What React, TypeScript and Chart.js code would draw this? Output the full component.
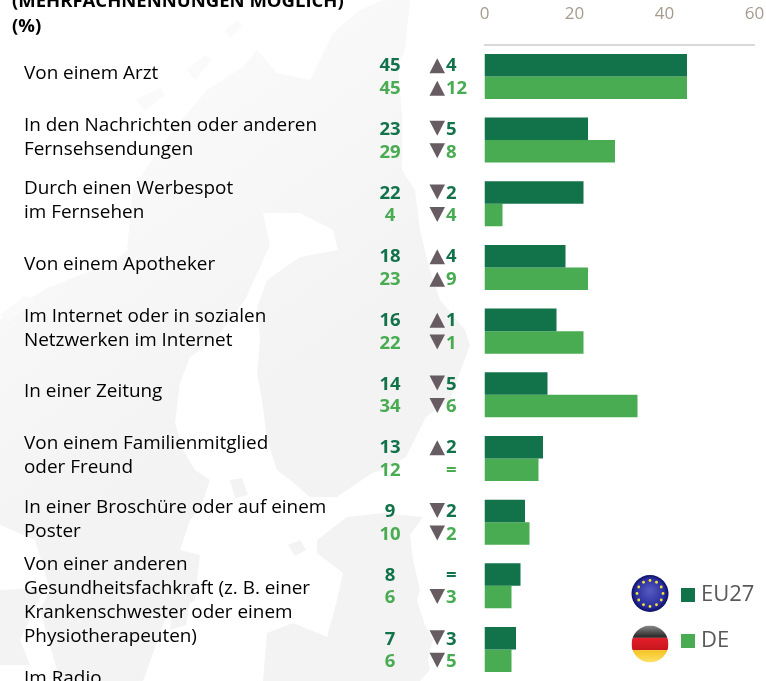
import { useEffect, useRef } from "react";
import { Chart, registerables } from "chart.js";

Chart.register(...registerables);

const title = ["(MEHRFACHNENNUNGEN MÖGLICH)", "(%)"];

const categoryLines: string[][] = [
  ["Von einem Arzt"],
  ["In den Nachrichten oder anderen", "Fernsehsendungen"],
  ["Durch einen Werbespot", "im Fernsehen"],
  ["Von einem Apotheker"],
  ["Im Internet oder in sozialen", "Netzwerken im Internet"],
  ["In einer Zeitung"],
  ["Von einem Familienmitglied", "oder Freund"],
  ["In einer Broschüre oder auf einem", "Poster"],
  ["Von einer anderen", "Gesundheitsfachkraft (z. B. einer", "Krankenschwester oder einem", "Physiotherapeuten)"],
  [""],
  ["Im Radio"],
];

const categories = categoryLines.map((l) => l.join(" "));
const euValues = [45, 23, 22, 18, 16, 14, 13, 9, 8, 7, null];
const deValues = [45, 29, 4, 23, 22, 34, 12, 10, 6, 6, null];
const euChange = [4, -5, -2, 4, 1, -5, 2, -2, 0, -3, null];
const deChange = [12, -8, -4, 9, -1, -6, 0, -2, -3, -5, null];
const xTicks = [0, 20, 40, 60];
const seriesNames = ["EU27", "DE"];
const seriesColors = ["#12734a", "#49ab52"];

const FONT = '"Open Sans", sans-serif';
const ROW_SHIFT: Record<number, number> = { 8: 0.23, 10: -0.55 };

const SCAND =
  "M0,320 L43,290 L117,260 L127,250 L133,187 L173,130 L207,90 L243,67 L257,50 L277,73 L310,80 L333,33 L360,10 L383,0 L410,0 L405,50 L398,65 L402,115 L402,170 L415,190 L420,230 L430,270 L440,300 L465,330 L470,345 L450,400 L426,417 L406,457 L383,470 L372,473 L337,497 L310,497 L290,480 L277,470 L267,440 L263,407 L257,373 L260,340 L257,307 L267,280 L300,257 L338,250 L333,230 L300,213 L263,213 L270,245 L245,300 L215,340 L190,357 L180,383 L175,423 L183,450 L195,470 L210,480 L200,510 L190,520 L180,550 L200,555 L195,600 L165,620 L143,681 L60,681 L40,610 L50,590 L35,540 L0,525 Z";
const BALTIC =
  "M423,517 L383,513 L347,517 L317,540 L317,553 L343,573 L337,600 L327,637 L293,623 L267,633 L263,681 L420,681 L430,670 L428,660 L430,650 L433,640 L425,625 L420,610 L417,600 L420,590 L413,560 L410,535 Z";
const ISLANDS = [
  "M0,590 L45,588 L20,640 L30,665 L0,665 Z",
  "M230,480 L242,478 L248,495 L235,498 Z",
  "M288,545 L300,540 L306,550 L295,556 Z",
  "M172,605 L190,600 L186,625 L170,630 Z",
];
const FAINT_ISLANDS = [
  "M187,70 L205,55 L212,60 L195,80 Z",
  "M135,100 L160,88 L165,95 L145,110 Z",
  "M225,30 L238,20 L242,27 L230,38 Z",
  "M0,315 L25,295 L35,300 L10,322 Z",
];

const drawMap = {
  id: "mapBackdrop",
  beforeDraw(chart: any) {
    const { ctx } = chart;
    ctx.save();
    const g = ctx.createLinearGradient(80, 20, 320, 360);
    g.addColorStop(0, "#fcfcfc");
    g.addColorStop(1, "#f3f3f3");
    ctx.fillStyle = g;
    ctx.fill(new Path2D(SCAND));
    ctx.fillStyle = "#f3f3f3";
    ctx.fill(new Path2D(BALTIC));
    ISLANDS.forEach((p) => ctx.fill(new Path2D(p)));
    ctx.fillStyle = "#fafafa";
    FAINT_ISLANDS.forEach((p) => ctx.fill(new Path2D(p)));
    ctx.restore();
  },
};

function triangle(ctx: any, x: number, y: number, up: boolean) {
  ctx.beginPath();
  if (up) {
    ctx.moveTo(x, y + 8);
    ctx.lineTo(x + 15.5, y + 8);
    ctx.lineTo(x + 7.75, y - 7);
  } else {
    ctx.moveTo(x, y - 8);
    ctx.lineTo(x + 15.5, y - 8);
    ctx.lineTo(x + 7.75, y + 7);
  }
  ctx.closePath();
  ctx.fillStyle = "#665c61";
  ctx.fill();
}

function drawEuFlag(ctx: any, cx: number, cy: number, r: number) {
  const g = ctx.createRadialGradient(cx, cy - 3, 2, cx, cy, r);
  g.addColorStop(0, "#5156bd");
  g.addColorStop(0.75, "#2a2e9e");
  g.addColorStop(1, "#0c0f63");
  ctx.fillStyle = g;
  ctx.beginPath();
  ctx.arc(cx, cy, r, 0, Math.PI * 2);
  ctx.fill();
  ctx.fillStyle = "#f2e23a";
  for (let i = 0; i < 12; i++) {
    const a = (i * Math.PI) / 6;
    ctx.beginPath();
    ctx.arc(cx + 13 * Math.sin(a), cy - 13 * Math.cos(a), 1.4, 0, Math.PI * 2);
    ctx.fill();
  }
}

function drawDeFlag(ctx: any, cx: number, cy: number, r: number) {
  ctx.save();
  ctx.beginPath();
  ctx.arc(cx, cy, r, 0, Math.PI * 2);
  ctx.clip();
  const top = ctx.createLinearGradient(0, cy - r, 0, cy - r / 3);
  top.addColorStop(0, "#8a8a8a");
  top.addColorStop(0.5, "#555");
  top.addColorStop(1, "#222");
  ctx.fillStyle = top;
  ctx.fillRect(cx - r, cy - r, 2 * r, (2 * r) / 3);
  const mid = ctx.createLinearGradient(0, cy - r / 3, 0, cy + r / 3);
  mid.addColorStop(0, "#e2202a");
  mid.addColorStop(1, "#c8141c");
  ctx.fillStyle = mid;
  ctx.fillRect(cx - r, cy - r / 3, 2 * r, (2 * r) / 3);
  const bot = ctx.createLinearGradient(0, cy + r / 3, 0, cy + r);
  bot.addColorStop(0, "#f4c21f");
  bot.addColorStop(1, "#fde26a");
  ctx.fillStyle = bot;
  ctx.fillRect(cx - r, cy + r / 3, 2 * r, (2 * r) / 3);
  ctx.restore();
}

const annotate = {
  id: "annotate",
  afterDatasetsDraw(chart: any) {
    const { ctx } = chart;
    ctx.save();
    ctx.fillStyle = "#000";
    ctx.font = `bold 18.5px ${FONT}`;
    ctx.textAlign = "left";
    ctx.textBaseline = "alphabetic";
    ctx.fillText(title[0], 12, 7);
    ctx.fillText(title[1], 12, 32);

    const sets = [
      { v: euValues, c: euChange },
      { v: deValues, c: deChange },
    ];
    sets.forEach((s, d) => {
      const meta = chart.getDatasetMeta(d);
      s.v.forEach((val, i) => {
        if (val === null) return;
        const y = meta.data[i].y;
        const ty = y + 1;
        ctx.fillStyle = seriesColors[d];
        ctx.font = `bold 18.5px ${FONT}`;
        ctx.textBaseline = "middle";
        ctx.textAlign = "center";
        ctx.fillText(String(val), 390, ty);
        const ch = s.c[i] as number;
        ctx.textAlign = "left";
        if (ch === 0) {
          ctx.fillText("=", 446, ty);
        } else {
          ctx.fillText(String(Math.abs(ch)), 446, ty);
          triangle(ctx, 429.5, y, ch > 0);
        }
      });
    });

    const legendY = [595, 641];
    seriesNames.forEach((n, i) => {
      ctx.fillStyle = seriesColors[i];
      ctx.fillRect(681, legendY[i] - 7, 14, 14);
      ctx.fillStyle = "#595959";
      ctx.font = `22px ${FONT}`;
      ctx.textAlign = "left";
      ctx.textBaseline = "middle";
      ctx.fillText(n, 701, legendY[i]);
    });
    drawEuFlag(ctx, 650, 593.5, 18.5);
    drawDeFlag(ctx, 650, 644, 18.5);
    ctx.restore();
  },
};

const noMargins = (s: any) => {
  s.paddingLeft = s.paddingRight = s.paddingTop = s.paddingBottom = 0;
};
const resetScale = (s: any) => {
  s._margins = { left: 0, right: 0, top: 0, bottom: 0 };
  s.configure();
};

export default function App() {
  const ref = useRef<HTMLCanvasElement | null>(null);
  useEffect(() => {
    document.body.style.margin = "0";
    const chart = new Chart(ref.current as HTMLCanvasElement, {
      type: "bar",
      data: {
        labels: categories,
        datasets: [
          { label: seriesNames[0], data: euValues, backgroundColor: seriesColors[0], yAxisID: "y", xAxisID: "x" },
          { label: seriesNames[1], data: deValues, backgroundColor: seriesColors[1], yAxisID: "y", xAxisID: "x" },
        ],
      },
      options: {
        indexAxis: "y",
        animation: false,
        responsive: false,
        layout: { autoPadding: false, padding: { left: 24, right: 11.5, top: 0, bottom: 0 } },
        plugins: { legend: { display: false }, title: { display: false }, tooltip: { enabled: false } },
        datasets: { bar: { barPercentage: 1, categoryPercentage: 0.707 } },
        scales: {
          x: {
            type: "linear",
            position: "top",
            min: 0,
            max: 60,
            grid: { display: false },
            border: { display: true, color: "#d9d9d9", width: 2 },
            ticks: {
              color: "#a69b8f",
              font: { family: FONT, size: 17 },
              padding: 12,
              maxRotation: 0,
              callback: (v: any) => v,
            },
            afterBuildTicks: (s: any) => {
              s.ticks = xTicks.map((value) => ({ value }));
            },
            afterFit: (s: any) => {
              s.height = 44.6;
              noMargins(s);
            },
            afterUpdate: resetScale,
          },
          y: { type: "category", display: false, grid: { display: false }, offset: true },
          rowLabels: {
            type: "linear",
            position: "left",
            reverse: true,
            offset: false,
            bounds: "data",
            min: -0.5,
            max: categories.length - 0.5,
            grid: { display: false },
            border: { display: false },
            ticks: {
              color: "#000",
              autoSkip: false,
              crossAlign: "far",
              padding: 0,
              font: { family: FONT, size: 18.9, lineHeight: "24px" },
              callback: (_v: any, i: number) => categoryLines[i],
            },
            afterBuildTicks: (s: any) => {
              s.ticks = categoryLines.map((_l, i) => ({ value: i + (ROW_SHIFT[i] ?? -0.045) }));
              s.min = -0.5;
              s.max = categories.length - 0.5;
            },
            afterFit: (s: any) => {
              s.width = 460.5;
              noMargins(s);
            },
            afterUpdate: resetScale,
          },
        },
      } as any,
      plugins: [drawMap, annotate],
    });
    return () => chart.destroy();
  }, []);
  return (
    <div style={{ width: 766, height: 681, overflow: "hidden", position: "relative", background: "#fff" }}>
      <canvas ref={ref} width={766} height={745} style={{ display: "block" }} />
    </div>
  );
}
